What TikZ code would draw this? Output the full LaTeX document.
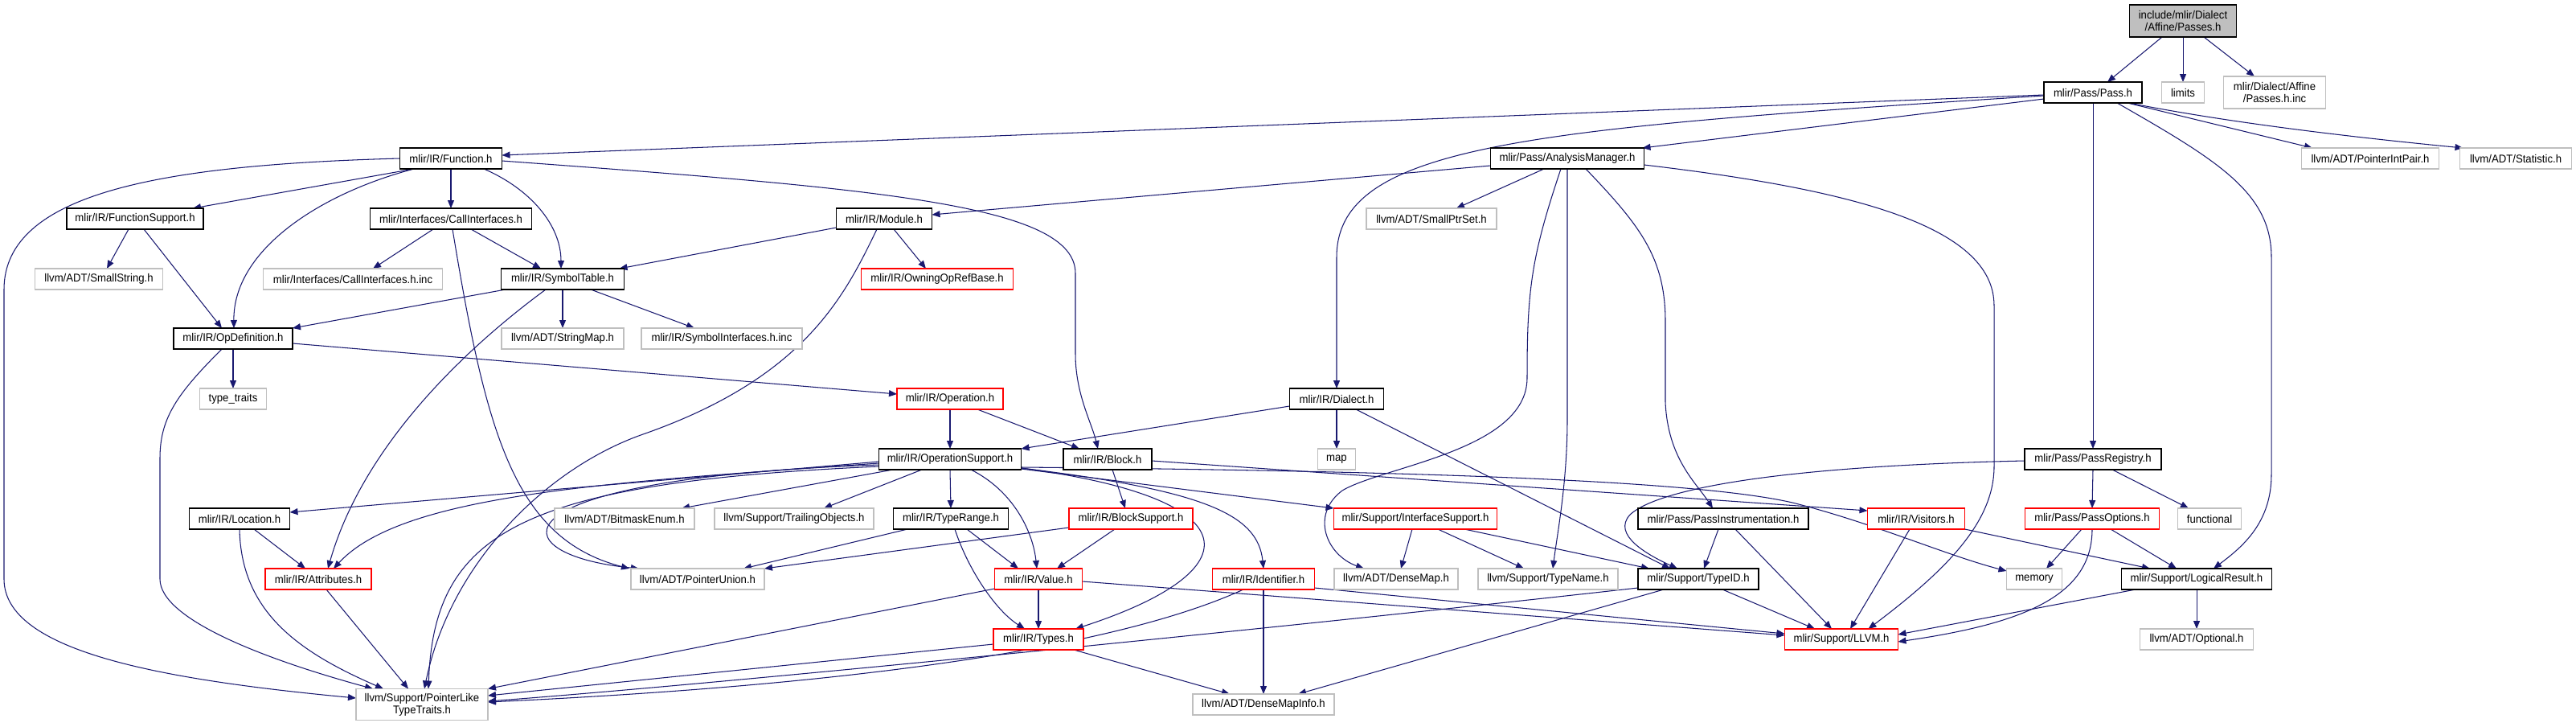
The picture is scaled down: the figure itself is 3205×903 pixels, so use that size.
\documentclass[tikz,border=0pt]{standalone}
\usepackage{fontspec}
\setmainfont{Liberation Sans}[FakeStretch=0.94]
\usetikzlibrary{arrows.meta}
\pgfdeclarelayer{edgelayer}
\pgfsetlayers{edgelayer,main}
\definecolor{edgeblue}{HTML}{191970}
\definecolor{greyline}{HTML}{BFBFBF}
\definecolor{rootfill}{HTML}{BFBFBF}
\definecolor{truncred}{HTML}{FF0000}
\tikzset{
  base/.style={inner sep=0pt, outer sep=0pt, align=center, fill=white, font=\fontsize{14}{15}\selectfont, text=black},
  nb/.style={base, draw=black, line width=1.4pt},
  ng/.style={base, draw=greyline, line width=1.3pt},
  nr/.style={base, draw=truncred, line width=1.3pt},
  nroot/.style={base, draw=black, line width=1.4pt, fill=rootfill},
  conn/.style={draw=edgeblue, line width=1.05pt, -{Triangle[length=10pt,width=8pt]}},
}
\begin{document}
\begin{tikzpicture}[x=1pt,y=-1pt]
\useasboundingbox (0,0) rectangle (3205,903);
% nodes
\node[nroot, minimum width=133pt, minimum height=40pt] (root) at (2716,26) {include/mlir/Dialect\\/Affine/Passes.h};
\node[nb, minimum width=122pt, minimum height=26pt] (pass) at (2604,115) {mlir/Pass/Pass.h};
\node[ng, minimum width=53pt, minimum height=26pt] (limits) at (2716,115) {limits};
\node[ng, minimum width=127pt, minimum height=40pt] (passinc) at (2830,115) {mlir/Dialect/Affine\\/Passes.h.inc};
\node[nb, minimum width=127pt, minimum height=26pt] (function) at (561,197) {mlir/IR/Function.h};
\node[nb, minimum width=191pt, minimum height=26pt] (analysis) at (1950,197) {mlir/Pass/AnalysisManager.h};
\node[ng, minimum width=171pt, minimum height=26pt] (pip) at (2949,197) {llvm/ADT/PointerIntPair.h};
\node[ng, minimum width=139pt, minimum height=26pt] (statistic) at (3130,197) {llvm/ADT/Statistic.h};
\node[nb, minimum width=170pt, minimum height=26pt] (funcsupport) at (168,272) {mlir/IR/FunctionSupport.h};
\node[nb, minimum width=201pt, minimum height=26pt] (callif) at (561,272) {mlir/Interfaces/CallInterfaces.h};
\node[nb, minimum width=119pt, minimum height=26pt] (module) at (1100,272) {mlir/IR/Module.h};
\node[ng, minimum width=162pt, minimum height=26pt] (smallptrset) at (1781,272) {llvm/ADT/SmallPtrSet.h};
\node[ng, minimum width=159pt, minimum height=26pt] (smallstring) at (123,347) {llvm/ADT/SmallString.h};
\node[ng, minimum width=223pt, minimum height=26pt] (callifinc) at (439,347) {mlir/Interfaces/CallInterfaces.h.inc};
\node[nb, minimum width=153pt, minimum height=26pt] (symtab) at (700,347) {mlir/IR/SymbolTable.h};
\node[nr, minimum width=189pt, minimum height=26pt] (owning) at (1166,347) {mlir/IR/OwningOpRefBase.h};
\node[nb, minimum width=148pt, minimum height=26pt] (opdef) at (290,421) {mlir/IR/OpDefinition.h};
\node[ng, minimum width=152pt, minimum height=26pt] (stringmap) at (700,421) {llvm/ADT/StringMap.h};
\node[ng, minimum width=200pt, minimum height=26pt] (symifinc) at (898,421) {mlir/IR/SymbolInterfaces.h.inc};
\node[ng, minimum width=83pt, minimum height=26pt] (typetraits) at (290,496) {type\_traits};
\node[nr, minimum width=132pt, minimum height=26pt] (operation) at (1182,496) {mlir/IR/Operation.h};
\node[nb, minimum width=117pt, minimum height=26pt] (dialect) at (1663,496) {mlir/IR/Dialect.h};
\node[nb, minimum width=177pt, minimum height=26pt] (opsupport) at (1182,571) {mlir/IR/OperationSupport.h};
\node[nb, minimum width=110pt, minimum height=26pt] (block) at (1378,571) {mlir/IR/Block.h};
\node[ng, minimum width=47pt, minimum height=26pt] (map) at (1663,571) {map};
\node[nb, minimum width=170pt, minimum height=26pt] (passreg) at (2604,571) {mlir/Pass/PassRegistry.h};
\node[nb, minimum width=125pt, minimum height=26pt] (location) at (298,645) {mlir/IR/Location.h};
\node[ng, minimum width=174pt, minimum height=26pt] (bitmask) at (777,645) {llvm/ADT/BitmaskEnum.h};
\node[ng, minimum width=198pt, minimum height=26pt] (trailing) at (988,645) {llvm/Support/TrailingObjects.h};
\node[nb, minimum width=143pt, minimum height=26pt] (typerange) at (1183,645) {mlir/IR/TypeRange.h};
\node[nr, minimum width=154pt, minimum height=26pt] (blocksupport) at (1407,645) {mlir/IR/BlockSupport.h};
\node[nr, minimum width=203pt, minimum height=26pt] (ifsupport) at (1761,645) {mlir/Support/InterfaceSupport.h};
\node[nb, minimum width=212pt, minimum height=26pt] (passinstr) at (2144,645) {mlir/Pass/PassInstrumentation.h};
\node[nr, minimum width=121pt, minimum height=26pt] (visitors) at (2384,645) {mlir/IR/Visitors.h};
\node[nr, minimum width=167pt, minimum height=26pt] (passopts) at (2603,645) {mlir/Pass/PassOptions.h};
\node[ng, minimum width=79pt, minimum height=26pt] (functional) at (2749,645) {functional};
\node[nr, minimum width=132pt, minimum height=26pt] (attributes) at (396,720) {mlir/IR/Attributes.h};
\node[ng, minimum width=166pt, minimum height=26pt] (ptrunion) at (868,720) {llvm/ADT/PointerUnion.h};
\node[nr, minimum width=109pt, minimum height=26pt] (value) at (1292,720) {mlir/IR/Value.h};
\node[nr, minimum width=127pt, minimum height=26pt] (identifier) at (1572,720) {mlir/IR/Identifier.h};
\node[ng, minimum width=154pt, minimum height=26pt] (densemap) at (1737,720) {llvm/ADT/DenseMap.h};
\node[ng, minimum width=174pt, minimum height=26pt] (typename) at (1926,720) {llvm/Support/TypeName.h};
\node[nb, minimum width=150pt, minimum height=26pt] (typeid) at (2113,720) {mlir/Support/TypeID.h};
\node[ng, minimum width=69pt, minimum height=26pt] (memory) at (2531,720) {memory};
\node[nb, minimum width=187pt, minimum height=26pt] (logical) at (2733,720) {mlir/Support/LogicalResult.h};
\node[nr, minimum width=112pt, minimum height=26pt] (types) at (1292,795) {mlir/IR/Types.h};
\node[nr, minimum width=141pt, minimum height=26pt] (llvm) at (2291,795) {mlir/Support/LLVM.h};
\node[ng, minimum width=141pt, minimum height=26pt] (optional) at (2733,795) {llvm/ADT/Optional.h};
\node[ng, minimum width=164pt, minimum height=39pt] (ptrlike) at (525,876) {llvm/Support/PointerLike\\TypeTraits.h};
\node[ng, minimum width=176pt, minimum height=26pt] (densemapinfo) at (1572,876) {llvm/ADT/DenseMapInfo.h};
% edges
\begin{pgfonlayer}{edgelayer}
\fill[white] (0,0) rectangle (3205,903);
\draw[conn] ([xshift=-26]root.south) -- ([xshift=18]pass.north);
\draw[conn] (root.south) -- (limits.north);
\draw[conn] ([xshift=26]root.south) -- ([xshift=-25]passinc.north);
\draw[conn] ([yshift=-3]pass.west) -- ([yshift=4]function.east);
\draw[conn] ([yshift=-8]pass.west) -- ([xshift=-2]analysis.north east);
\draw[conn] ([yshift=-4]pass.west) .. controls (1900,160) and (1663,180) .. (1663,320) -- (dialect.north);
\draw[conn] (pass.south) -- (passreg.north);
\draw[conn] ([xshift=30]pass.south) .. controls (2760,200) and (2826,240) .. (2826,320) -- (2826,590) .. controls (2826,650) and (2790,680) .. ([xshift=21]logical.north);
\draw[conn] ([xshift=43]pass.south) -- ([xshift=-72]pip.north);
\draw[conn] ([xshift=45]pass.south) .. controls (2760,150) and (2900,168) .. ([xshift=4]statistic.north west);
\draw[conn] ([xshift=-46]function.south) -- ([xshift=72]funcsupport.north);
\draw[conn] (function.south) -- (callif.north);
\draw[conn] ([xshift=41]function.south) .. controls (660,235) and (698,280) .. ([xshift=-2]symtab.north);
\draw[conn] ([xshift=-46]function.south) .. controls (400,240) and (290,310) .. ([xshift=1]opdef.north);
\draw[conn] ([yshift=-3]function.east) .. controls (1100,235) and (1338,255) .. (1338,340) -- (1338,440) .. controls (1338,490) and (1358,525) .. ([xshift=-12]block.north);
\draw[conn] (function.west) .. controls (200,205) and (5,240) .. (5,360) -- (5,720) .. controls (5,810) and (200,845) .. ([yshift=8]ptrlike.west);
\draw[conn] ([xshift=-8]funcsupport.south) -- ([xshift=10]smallstring.north);
\draw[conn] ([xshift=11]funcsupport.south) -- ([xshift=-14]opdef.north);
\draw[conn] ([xshift=-22]callif.south) -- ([xshift=25]callifinc.north);
\draw[conn] ([xshift=25]callif.south) -- ([xshift=-27]symtab.north);
\draw[conn] ([xshift=2]callif.south) .. controls (605,540) and (640,670) .. ([xshift=-2]ptrunion.north west);
\draw[conn] ([yshift=-11]module.west) -- ([xshift=-6]symtab.north east);
\draw[conn] ([xshift=12]module.south) -- ([xshift=-14]owning.north);
\draw[conn] ([xshift=-9]module.south) .. controls (1050,370) and (1000,470) .. (800,540) .. controls (680,582) and (560,700) .. ([xshift=3]ptrlike.north);
\draw[conn] ([yshift=-9]analysis.west) -- ([yshift=5]module.east);
\draw[conn] ([xshift=-29]analysis.south) -- ([xshift=31]smallptrset.north);
\draw[conn] ([xshift=-8]analysis.south) .. controls (1905,320) and (1900,360) .. (1900,470) .. controls (1900,560) and (1720,580) .. (1670,610) .. controls (1630,640) and (1650,690) .. ([xshift=-40]densemap.north);
\draw[conn] (analysis.south) -- (1950,520) .. controls (1950,600) and (1938,660) .. ([xshift=6]typename.north);
\draw[conn] ([xshift=23]analysis.south) .. controls (2040,280) and (2072,320) .. (2072,400) -- (2072,500) .. controls (2075,570) and (2110,600) .. ([xshift=-13]passinstr.north);
\draw[conn] ([yshift=-8]analysis.east) .. controls (2300,235) and (2481,280) .. (2481,380) -- (2481,580) .. controls (2481,650) and (2420,710) .. ([xshift=-37]llvm.north east);
\draw[conn] ([xshift=-71]symtab.south) -- (opdef.north east);
\draw[conn] (symtab.south) -- (stringmap.north);
\draw[conn] ([xshift=35]symtab.south) -- ([xshift=-34]symifinc.north);
\draw[conn] ([xshift=-21]symtab.south) .. controls (570,440) and (450,560) .. ([xshift=12]attributes.north);
\draw[conn] ([yshift=-6]opdef.east) -- ([yshift=6]operation.west);
\draw[conn] (opdef.south) -- (typetraits.north);
\draw[conn] ([xshift=-14]opdef.south) .. controls (220,490) and (199,520) .. (199,570) -- (199,720) .. controls (199,770) and (330,820) .. ([xshift=-61]ptrlike.north);
\draw[conn] (operation.south) -- (opsupport.north);
\draw[conn] ([xshift=34]operation.south) -- ([xshift=-35]block.north);
\draw[conn] (dialect.south) -- (map.north);
\draw[conn] ([yshift=-9]dialect.west) -- (opsupport.north east);
\draw[conn] ([xshift=24]dialect.south) -- ([xshift=-35]typeid.north);
\draw[conn] ([yshift=-3]opsupport.west) -- ([yshift=8]location.east);
\draw[conn] ([yshift=-5]opsupport.west) .. controls (750,600) and (500,615) .. ([xshift=19]attributes.north);
\draw[conn] ([yshift=-7]opsupport.west) .. controls (600,595) and (620,690) .. ([xshift=10]ptrunion.north west);
\draw[conn] ([yshift=-9]opsupport.west) .. controls (650,600) and (540,660) .. ([xshift=8]ptrlike.north);
\draw[conn] ([xshift=-71]opsupport.south) -- ([xshift=71]bitmask.north);
\draw[conn] ([xshift=-35]opsupport.south) -- ([xshift=37]trailing.north);
\draw[conn] (opsupport.south) -- (typerange.north);
\draw[conn] ([xshift=26]opsupport.south) .. controls (1260,610) and (1285,660) .. ([xshift=-2]value.north);
\draw[conn] ([yshift=-11]opsupport.east) .. controls (1560,620) and (1560,710) .. ([xshift=46]types.north);
\draw[conn] ([yshift=-11]opsupport.east) .. controls (1500,610) and (1565,640) .. (identifier.north);
\draw[conn] ([yshift=-12]opsupport.east) -- (ifsupport.north west);
\draw[conn] ([yshift=-10]opsupport.east) .. controls (1700,585) and (2100,595) .. (2230,625) .. controls (2330,650) and (2420,690) .. ([yshift=10]memory.west);
\draw[conn] ([xshift=6]block.south) -- ([xshift=-7]blocksupport.north);
\draw[conn] ([yshift=-2]block.east) -- ([yshift=10]visitors.west);
\draw[conn] ([xshift=-54]typerange.south) -- ([xshift=57]ptrunion.north);
\draw[conn] ([xshift=20]typerange.south) -- ([xshift=-25]value.north);
\draw[conn] ([xshift=5]typerange.south) .. controls (1205,710) and (1240,760) .. ([xshift=-17]types.north);
\draw[conn] ([yshift=-11]blocksupport.west) -- (ptrunion.north east);
\draw[conn] ([xshift=-20]blocksupport.south) -- ([xshift=23]value.north);
\draw[conn] ([xshift=-4]ifsupport.south) -- ([xshift=6]densemap.north);
\draw[conn] ([xshift=28]ifsupport.south) -- ([xshift=-30]typename.north);
\draw[conn] ([xshift=61]ifsupport.south) -- ([xshift=-61]typeid.north);
\draw[conn] ([xshift=-6]passinstr.south) -- ([xshift=7]typeid.north);
\draw[conn] ([xshift=15]passinstr.south) -- ([xshift=-12]llvm.north);
\draw[conn] ([xshift=-8]visitors.south) -- ([xshift=11]llvm.north);
\draw[conn] (visitors.south east) -- ([xshift=-58]logical.north);
\draw[conn] (passreg.south) -- (passopts.north);
\draw[conn] ([xshift=24]passreg.south) -- ([xshift=-26]functional.north);
\draw[conn] ([yshift=-2]passreg.west) .. controls (2200,580) and (2060,610) .. (2028,640) .. controls (2005,665) and (2050,690) .. ([xshift=-26]typeid.north);
\draw[conn] ([xshift=-13]passopts.south) -- ([xshift=15]memory.north);
\draw[conn] ([xshift=23]passopts.south) -- ([xshift=-25]logical.north);
\draw[conn] (passopts.south) .. controls (2603,740) and (2520,775) .. ([yshift=-3]llvm.east);
\draw[conn] (logical.south) -- (optional.north);
\draw[conn] ([xshift=-76]logical.south) -- ([yshift=6]llvm.east);
\draw[conn] ([xshift=30]typeid.south) -- ([xshift=-33]llvm.north);
\draw[conn] ([xshift=-43]typeid.south) -- ([xshift=43]densemapinfo.north);
\draw[conn] ([yshift=-11]typeid.west) .. controls (1600,780) and (900,850) .. ([yshift=4]ptrlike.east);
\draw[conn] (value.south) -- (types.north);
\draw[conn] ([yshift=-12]value.west) -- (ptrlike.north east);
\draw[conn] ([yshift=-3]value.east) -- ([yshift=5]llvm.west);
\draw[conn] ([yshift=-6]types.west) -- ([yshift=11]ptrlike.east);
\draw[conn] ([xshift=44]types.south) -- ([xshift=-42]densemapinfo.north);
\draw[conn] (identifier.south) -- (densemapinfo.north);
\draw[conn] ([xshift=-25]identifier.south) .. controls (1400,800) and (1100,850) .. ([yshift=3]ptrlike.east);
\draw[conn] ([yshift=-11]identifier.east) -- ([yshift=7]llvm.west);
\draw[conn] ([xshift=18]location.south) -- ([xshift=-16]attributes.north);
\draw[conn] (location.south) .. controls (300,760) and (370,810) .. ([xshift=-48]ptrlike.north);
\draw[conn] ([xshift=10]attributes.south) -- ([xshift=-17]ptrlike.north);
\end{pgfonlayer}
\end{tikzpicture}
\end{document}
